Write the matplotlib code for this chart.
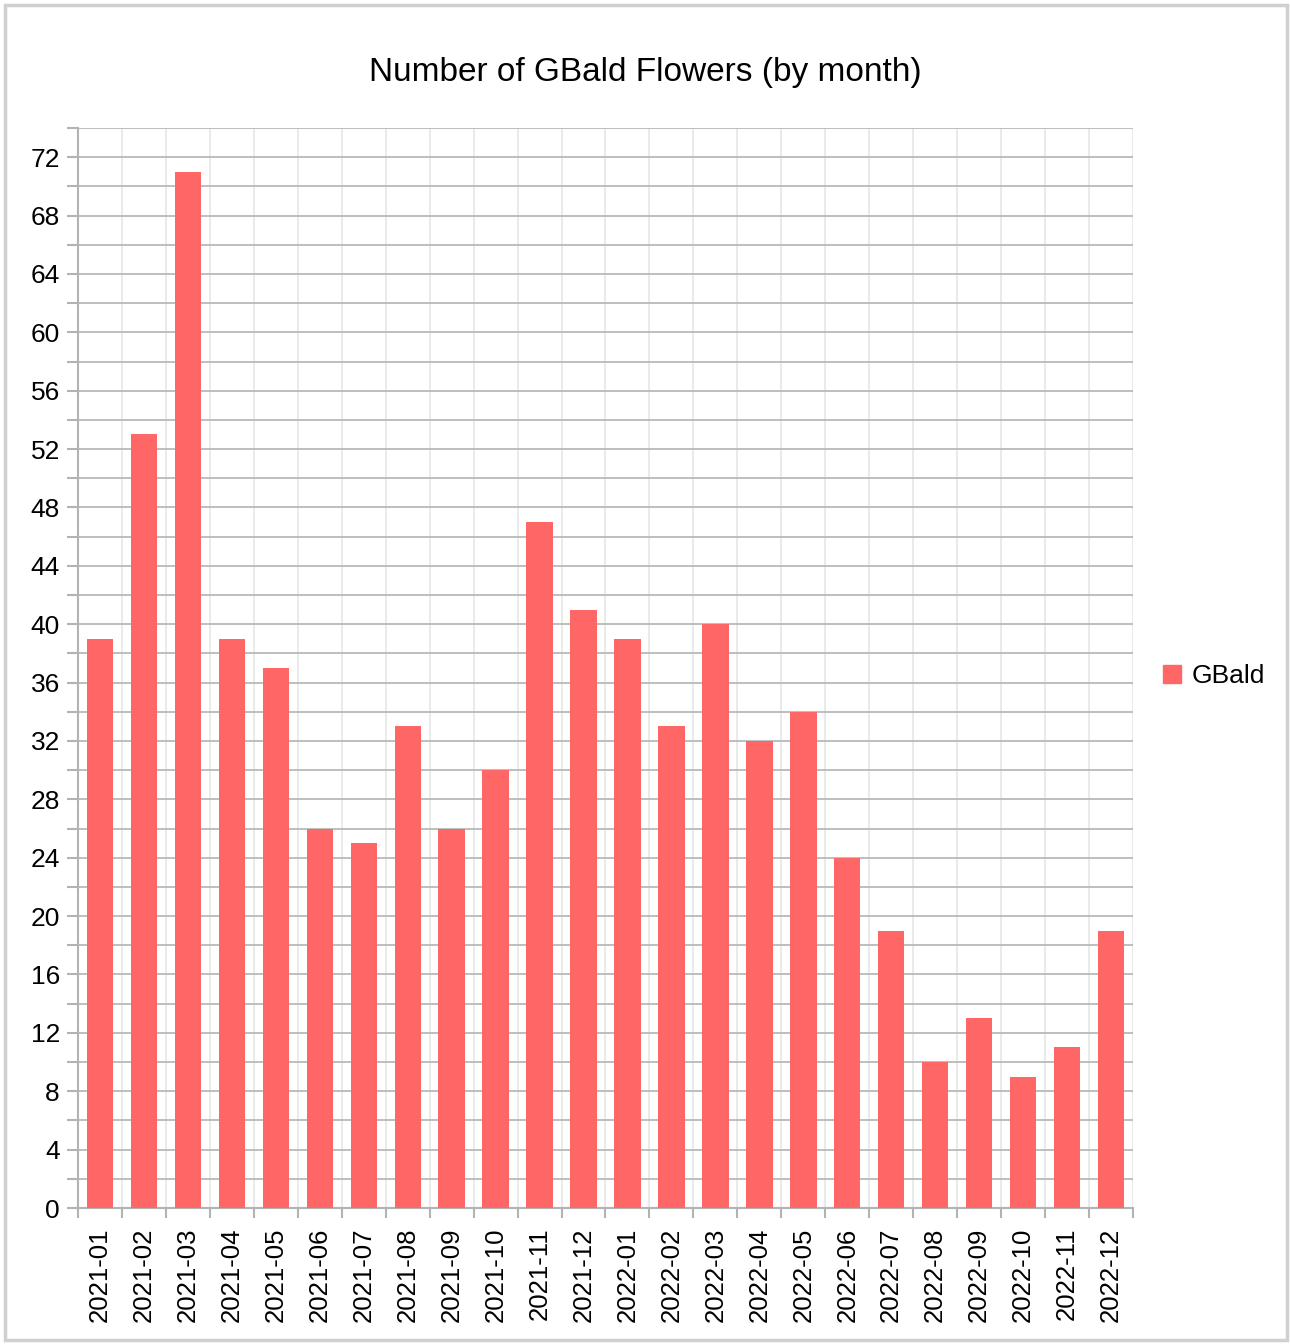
import numpy as np
import matplotlib
matplotlib.use("Agg")
import matplotlib.pyplot as plt
from matplotlib.patches import Rectangle, Patch

plt.rcParams['font.family'] = ['Liberation Sans', 'DejaVu Sans']

months = ['2021-01', '2021-02', '2021-03', '2021-04', '2021-05', '2021-06',
          '2021-07', '2021-08', '2021-09', '2021-10', '2021-11', '2021-12',
          '2022-01', '2022-02', '2022-03', '2022-04', '2022-05', '2022-06',
          '2022-07', '2022-08', '2022-09', '2022-10', '2022-11', '2022-12']
gbald = [39, 53, 71, 39, 37, 26, 25, 33, 26, 30, 47, 41,
         39, 33, 40, 32, 34, 24, 19, 10, 13, 9, 11, 19]

fig = plt.figure(figsize=(12.9, 13.44), dpi=100)
ax = fig.add_axes([78 / 1290, 1 - 1208 / 1344, (1133 - 78) / 1290, (1208 - 128) / 1344])

x = np.arange(len(months))
ax.bar(x, gbald, width=0.6, color='#ff6666', zorder=3)

ax.set_xlim(-0.5, len(months) - 0.5)
ax.set_ylim(0, 74)
ax.set_yticks(np.arange(0, 73, 4))
ax.set_yticks(np.arange(0, 75, 2), minor=True)
ax.set_xticks(x)
ax.set_xticklabels(months, rotation=90, fontsize=18.5)
ax.set_xticks(np.arange(-0.5, len(months), 1), minor=True)
ax.tick_params(axis='x', which='major', length=0, pad=14)
ax.tick_params(axis='x', which='minor', length=7.5, color='#b3b3b3', width=1.5)
ax.tick_params(axis='y', which='both', length=8, color='#b3b3b3', width=1.5, labelsize=19, pad=5)

ax.grid(axis='y', which='both', color='#b3b3b3', linewidth=1.2, zorder=0)
ax.grid(axis='x', which='minor', color='#e6e6e6', linewidth=1.2, zorder=0)
ax.grid(axis='x', which='major', visible=False)

for side in ['top', 'right']:
    ax.spines[side].set_visible(False)
for side in ['left', 'bottom']:
    ax.spines[side].set_color('#b3b3b3')
    ax.spines[side].set_linewidth(1.5)

fig.text(0.5, 1 - 73 / 1344, 'Number of GBald Flowers (by month)', ha='center', va='center', fontsize=24)

fig.legend(handles=[Patch(color='#ff6666', label='GBald')], loc='center left',
           bbox_to_anchor=(1139 / 1290, 1 - 676 / 1344), frameon=False, fontsize=19,
           handlelength=0.7, handleheight=0.7, handletextpad=0.4)

fig.patches.append(Rectangle((5 / 1290, 4 / 1344), 1282 / 1290, 1335 / 1344,
                             transform=fig.transFigure, fill=False,
                             edgecolor='#d0d0d0', linewidth=2.5))

fig.savefig('out.png', dpi=100)
